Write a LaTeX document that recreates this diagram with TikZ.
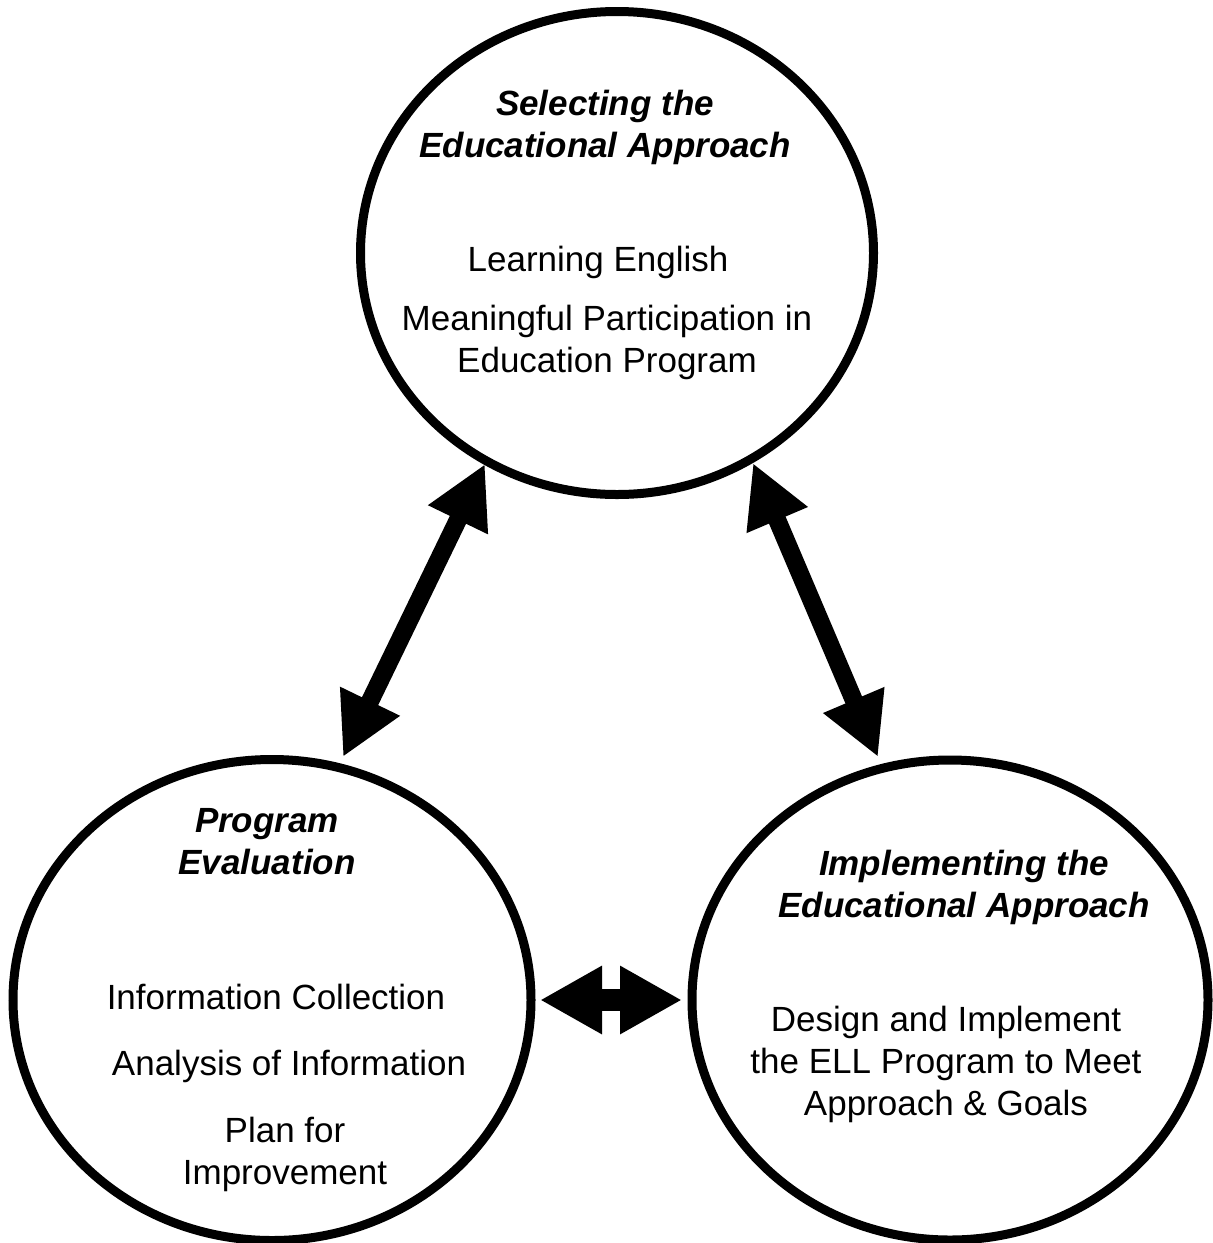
\documentclass[tikz,border=0pt]{standalone}
\usepackage{fontspec}
\setmainfont{Liberation Sans}
\usetikzlibrary{arrows.meta,shapes.geometric}
\begin{document}
\begin{tikzpicture}[x=0.5pt,y=-0.5pt,
  ring/.style={draw, line width=4.5pt, ellipse, inner sep=0pt},
  headtext/.style={font=\fontsize{17.5}{21}\selectfont\bfseries\itshape, align=center, inner sep=0pt},
  bodytext/.style={font=\fontsize{17.5}{21}\selectfont, align=center, inner sep=0pt},
  bigarrow/.style={line width=9pt, {Triangle[length=31pt,width=31pt]}-{Triangle[length=31pt,width=31pt]}},
  flatarrow/.style={line width=11pt, {Triangle[length=31pt,width=32pt]}-{Triangle[length=31pt,width=32pt]}}]
\useasboundingbox (0,0) rectangle (1213,1243);
% circles
\node[ring, minimum width=256.5pt, minimum height=241.5pt] (sel) at (617,253) {};
\node[ring, minimum width=259pt, minimum height=240.5pt] (eval) at (272,1000) {};
\node[ring, minimum width=258pt, minimum height=240pt] (impl) at (950,1000) {};
% texts top
\node[headtext] (selT) at (605,127) {Selecting the\\Educational Approach};
\node[bodytext] (selA) at (598,262) {Learning English};
\node[bodytext] (selB) at (607,342) {Meaningful Participation in\\Education Program};
% texts left
\node[headtext] (evalT) at (267,842) {Program\\Evaluation};
\node[bodytext] (evalA) at (276,997) {Information Collection};
\node[bodytext] (evalB) at (289,1066) {Analysis of Information};
\node[bodytext] (evalC) at (285,1154) {Plan for\\Improvement};
% texts right
\node[headtext] (implT) at (964,887) {Implementing the\\Educational Approach};
\node[bodytext] (implA) at (946,1064) {Design and Implement\\the ELL Program to Meet\\Approach \& Goals};
% arrow ends
\coordinate (selL) at (485,464);
\coordinate (evalU) at (343,757);
\coordinate (selR) at (753,463);
\coordinate (implU) at (878,757);
\coordinate (evalR) at (540,1000);
\coordinate (implL) at (682,1000);
\draw[bigarrow] (evalU) -- (selL);
\draw[bigarrow] (selR) -- (implU);
\draw[flatarrow] (evalR) -- (implL);
\end{tikzpicture}
\end{document}
